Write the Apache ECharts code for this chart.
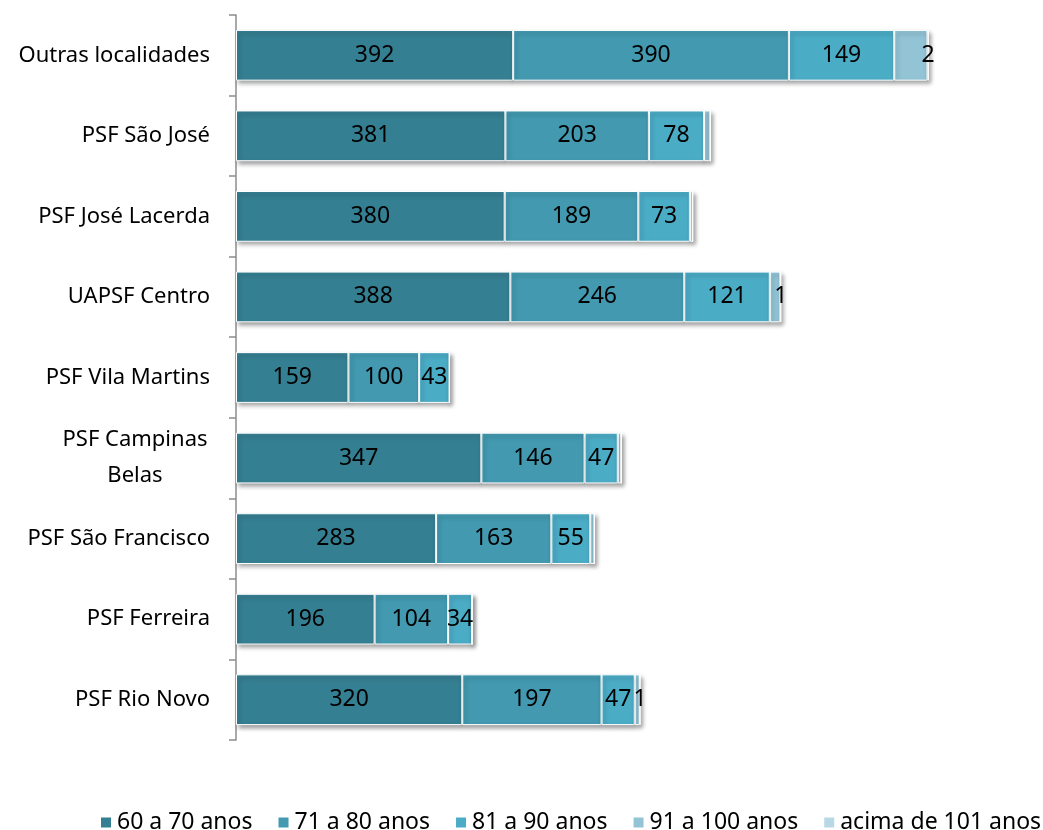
<!DOCTYPE html>
<html>
<head>
<meta charset="utf-8">
<script src="https://cdn.jsdelivr.net/npm/echarts@6/dist/echarts.min.js"></script>
<style>
  html, body { margin: 0; padding: 0; background: #fff; }
  #chart { width: 1043px; height: 830px; }
</style>
</head>
<body>
<div id="chart"></div>
<script>
// categorias de cima para baixo
const localidades = ['Outras localidades', 'PSF São José', 'PSF José Lacerda', 'UAPSF Centro',
  'PSF Vila Martins', 'PSF Campinas\nBelas', 'PSF São Francisco', 'PSF Ferreira', 'PSF Rio Novo'];
const faixas = ['60 a 70 anos', '71 a 80 anos', '81 a 90 anos', '91 a 100 anos', 'acima de 101 anos'];
const cores = ['#357F92', '#4299B0', '#4BACC6', '#92C4D6', '#B9D8E6'];

const v60a70 = [392, 381, 380, 388, 159, 347, 283, 196, 320];
const v71a80 = [390, 203, 189, 246, 100, 146, 163, 104, 197];
const v81a90 = [149, 78, 73, 121, 43, 47, 55, 34, 47];
// sem rotulo no original, estimado pela largura das barras
const v91a100 = [47, 9, 4, 15, 0, 5, 6, 0, 7];
const vAcima101 = [2, 0, 0, 1, 0, 0, 0, 0, 1];

const valores = [v60a70, v71a80, v81a90, v91a100, vAcima101];
const fonte = 'Noto Sans, Liberation Sans, sans-serif';

let myChart = echarts.init(document.getElementById('chart'));

let series_list = [];
for (let i = 0; i < faixas.length; i++) {
  series_list.push({
    type: 'bar',
    name: faixas[i],
    stack: 'total',
    data: valores[i],
    barCategoryGap: '37%',
    itemStyle: {
      color: cores[i],
      borderColor: '#fff',
      borderWidth: 1,
      shadowColor: 'rgba(0,0,0,0.35)',
      shadowBlur: 4,
      shadowOffsetX: 2,
      shadowOffsetY: 3,
    },
    label: {
      show: i !== 3,
      position: 'inside',
      color: '#000',
      fontSize: 23,
      fontFamily: fonte,
      formatter: function (params) {
        return params.value > 0 ? String(params.value) : '';
      },
    },
  });
}

let option = {
  animation: false,
  backgroundColor: '#fff',
  grid: {
    left: 236,
    width: 707,
    top: 15,
    bottom: 90,
  },
  xAxis: {
    type: 'value',
    min: 0,
    max: 1000,
    show: false,
  },
  yAxis: {
    type: 'category',
    inverse: true,
    data: localidades,
    axisLine: { show: true, lineStyle: { color: '#8c8c8c', width: 1.5 } },
    axisTick: { show: true, length: 7, lineStyle: { color: '#8c8c8c', width: 1.5 } },
    axisLabel: {
      color: '#000',
      fontSize: 22,
      fontFamily: fonte,
      margin: 26,
      align: 'right',
      lineHeight: 36,
      formatter: function (value) {
        return value.indexOf('\n') >= 0 ? '{c|' + value.replace('\n', '}\n{c|') + '}' : value;
      },
      rich: {
        c: { fontSize: 22, fontFamily: fonte, color: '#000', align: 'center', width: 150, lineHeight: 36 },
      },
    },
  },
  legend: {
    bottom: -4,
    left: 99,
    width: 944,
    padding: 0,
    itemWidth: 12,
    itemHeight: 12,
    itemGap: 24,
    icon: 'rect',
    textStyle: { fontSize: 23, fontFamily: fonte, color: '#000' },
    data: faixas,
  },
  series: series_list,
};
myChart.setOption(option, true);
</script>
</body>
</html>
